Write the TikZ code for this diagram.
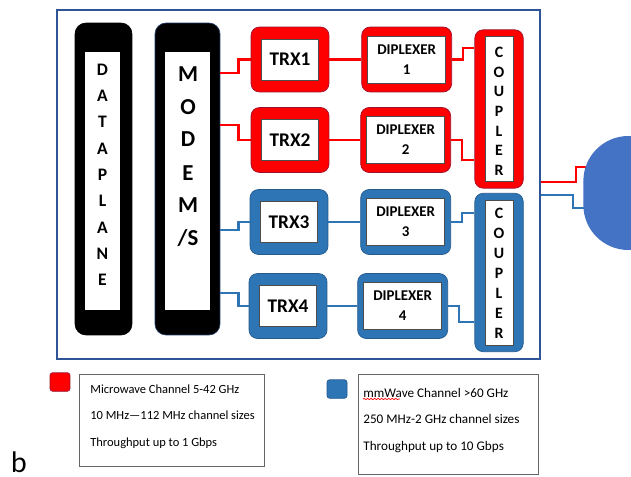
\documentclass[tikz,border=0pt]{standalone}
\usepackage{fontspec}
\setmainfont{Carlito}
\newfontfamily\panelfont{Lato}
\usetikzlibrary{positioning,decorations.pathmorphing}
\definecolor{mwred}{HTML}{FF0000}
\definecolor{mwedge}{HTML}{9C1030}
\definecolor{mmblue}{HTML}{2E75B6}
\definecolor{mmedge}{HTML}{245A8C}
\definecolor{boardblue}{HTML}{2F5597}
\definecolor{antfill}{HTML}{4472C4}
\definecolor{modemedge}{HTML}{1F3864}

\begin{document}
\begin{tikzpicture}[x=0.02cm, y=-0.02cm,
  mwbox/.style={fill=mwred, draw=mwedge, rounded corners=0.17cm, inner sep=0pt},
  mmbox/.style={fill=mmblue, draw=mmedge, rounded corners=0.17cm, inner sep=0pt},
  trx/.style={minimum width=1.56cm, minimum height=1.3cm},
  dip/.style={minimum width=1.8cm, minimum height=1.3cm},
  cpl/.style={minimum width=0.97cm, minimum height=3.17cm},
  trxin/.style={fill=white, draw=black!70, inner sep=0pt, minimum width=1.14cm, minimum height=0.82cm, font=\bfseries\fontsize{11}{12}\selectfont},
  dipin/.style={fill=white, draw=black!70, inner sep=0pt, minimum width=1.56cm, minimum height=0.94cm, align=center, font=\bfseries\fontsize{8.5}{11.4}\selectfont},
  cplin/.style={fill=white, draw=black!70, inner sep=0pt, minimum width=0.56cm, minimum height=2.9cm},
  bar/.style={fill=black, rounded corners=0.22cm, minimum height=6.24cm, inner sep=0pt},
  barin/.style={fill=white, inner sep=0pt, minimum height=5.16cm},
  dpletter/.style={anchor=base, inner sep=0pt, font=\bfseries\fontsize{10}{10}\selectfont},
  mdletter/.style={anchor=base, inner sep=0pt, font=\bfseries\fontsize{13}{13}\selectfont},
  cpletter/.style={anchor=base, inner sep=0pt, font=\bfseries\fontsize{9}{9}\selectfont},
  mwline/.style={mwred, line width=1.6pt},
  mmline/.style={mmblue, line width=1.6pt},
  key/.style={rounded corners=1.5pt, minimum width=0.4cm, minimum height=0.37cm, inner sep=0pt},
  keybox/.style={draw=black!60, anchor=north west}
]
  \clip (0,0) rectangle (631,476);

  \node[draw=boardblue, line width=1.1pt, minimum width=9.66cm, minimum height=6.98cm, inner sep=0pt] (board) at (298.5,184.5) {};

  \node[bar, draw=black, minimum width=1.14cm] (dataplane) at (103.5,179) {};
  \node[barin, minimum width=0.7cm] (dataplanein) at (102.5,181) {};
  \node[bar, draw=modemedge, minimum width=1.3cm] (modem) at (187.5,179) {};
  \node[barin, minimum width=0.9cm] (modemin) at (187.5,181) {};
  \foreach \l [count=\i] in {D,A,T,A,P,L,A,N,E}
    \node[dpletter] (dp\i) at (102.5,{70+26.25*(\i-1)+5.5}) {\l};
  \node[mdletter] (md1) at (188,82) {M};
  \node[mdletter] (md2) at (188,114.6) {O};
  \node[mdletter] (md3) at (188,147) {D};
  \node[mdletter] (md4) at (188,180) {E};
  \node[mdletter] (md5) at (188,212) {M};
  \node[mdletter] (md6) at (188,245) {/S};

  \node[mwbox, trx] (trx1) at (290,59.5) {};
  \node[trxin] (trx1in) at (trx1) {TRX1};
  \node[mwbox, trx] (trx2) at (290,140) {};
  \node[trxin] (trx2in) at (trx2) {TRX2};
  \node[mmbox, trx] (trx3) at (289,222) {};
  \node[trxin] (trx3in) at (trx3) {TRX3};
  \node[mmbox, trx] (trx4) at (288,306) {};
  \node[trxin] (trx4in) at (trx4) {TRX4};

  \node[mwbox, dip, right=0.64cm of trx1] (dip1) {};
  \node[dipin] (dip1in) at (dip1) {DIPLEXER\\1};
  \node[mwbox, dip, right=0.62cm of trx2] (dip2) {};
  \node[dipin] (dip2in) at (dip2) {DIPLEXER\\2};
  \node[mmbox, dip, right=0.64cm of trx3] (dip3) {};
  \node[dipin] (dip3in) at (dip3) {DIPLEXER\\3};
  \node[mmbox, dip, right=0.6cm of trx4] (dip4) {};
  \node[dipin] (dip4in) at (dip4) {DIPLEXER\\4};

  \node[mwbox, cpl] (cplred) at (499,109) {};
  \node[cplin] (cplredin) at (cplred) {};
  \node[mmbox, cpl] (cplblue) at (499,272.5) {};
  \node[cplin] (cplbluein) at (cplblue) {};
  \foreach \l [count=\i] in {C,O,U,P,L,E,R} {
    \node[cpletter] (cr\i) at (499,{53+19.5*(\i-1)+5}) {\l};
    \node[cpletter] (cb\i) at (499,{213+20*(\i-1)+5}) {\l};
  }

  \draw[mwline] (modem.east |- 0,73) -- ++(18,0) |- (trx1);
  \draw[mwline] (modem.east |- 0,125) -- ++(18,0) |- (trx2);
  \draw[mmline] (modem.east |- 0,230) -- ++(18,0) |- (trx3);
  \draw[mmline] (modem.east |- 0,293) -- ++(18,0) |- (trx4);

  \draw[mwline] (trx1) -- (dip1);
  \draw[mwline] (trx2) -- (dip2);
  \draw[mmline] (trx3) -- (dip3);
  \draw[mmline] (trx4) -- (dip4);

  \draw[mwline] (dip1.east) -- ++(11,0) |- (cplred.west |- 0,48);
  \draw[mwline] (dip2.east) -- ++(11,0) |- (cplred.west |- 0,160);
  \draw[mmline] (dip3.east) -- ++(11,0) |- (cplblue.west |- 0,213);
  \draw[mmline] (dip4.east) -- ++(11,0) |- (cplblue.west |- 0,322);

  \coordinate (antred) at (595,167);
  \coordinate (antblue) at (595,208);
  \draw[mwline] (board.east |- 0,182) -- ++(35,0) |- (antred);
  \draw[mmline] (board.east |- 0,195) -- ++(32,0) |- (antblue);
  \node[fill=antfill, rounded corners=0.9cm, minimum width=2.6cm, minimum height=2.28cm, anchor=west, inner sep=0pt] (antenna) at (583,193) {};

  \node[key, fill=mwred, draw=mwedge] (mwkey) at (60,382) {};
  \node[keybox, inner xsep=0.22cm, inner ysep=0.2cm, font=\fontsize{7.1}{15.2}\selectfont] (mwnote) at (79,374) {\parbox[t][1.44cm][t]{3.26cm}{\mbox{Microwave Channel 5-42 GHz}\\\mbox{10 MHz---112 MHz channel sizes}\\\mbox{Throughput up to 1 Gbps}}};
  \node[key, fill=mmblue, draw=mmedge] (mmkey) at (337,389) {};
  \node[keybox, inner xsep=0.1cm, inner ysep=0.27cm, font=\fontsize{7.5}{15.2}\selectfont] (mmnote) at (358,374) {\parbox[t][1.46cm][t]{3.4cm}{\mbox{mmWave Channel >60 GHz}\\\mbox{250 MHz-2 GHz channel sizes}\\\mbox{Throughput up to 10 Gbps}}};
  \draw[red, decorate, decoration={snake, amplitude=0.35pt, segment length=2pt}] (363,399) -- (400,399);

  \node[anchor=base, inner sep=0pt, font=\panelfont\fontsize{16}{16}\selectfont] (panel) at (19,472) {b};
\end{tikzpicture}
\end{document}
